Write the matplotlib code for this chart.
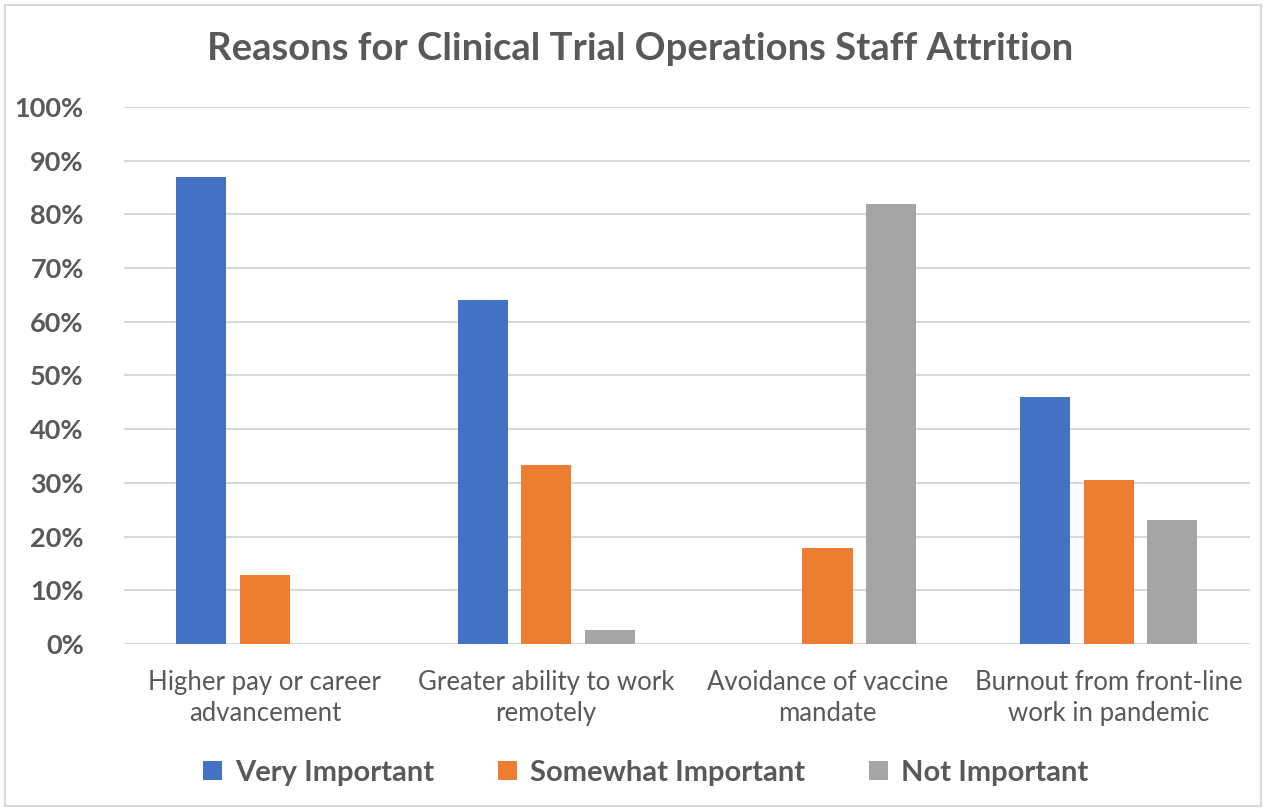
import numpy as np
import matplotlib.pyplot as plt
from matplotlib.patches import Rectangle
from matplotlib.ticker import PercentFormatter

# --- data ---
categories = ["Higher pay or career\nadvancement",
              "Greater ability to work\nremotely",
              "Avoidance of vaccine\nmandate",
              "Burnout from front-line\nwork in pandemic"]
very_important = [87, 64, 0, 46]
somewhat_important = [12.8, 33.3, 17.9, 30.5]
not_important = [0, 2.6, 81.9, 23.1]
series_names = ["Very Important", "Somewhat Important", "Not Important"]
colors = ["#4472C4", "#ED7D31", "#A5A5A5"]

plt.rcParams['font.family'] = ['Lato', 'DejaVu Sans']
text_color = "#595959"

fig = plt.figure(figsize=(12.66, 8.11), dpi=100)
ax = fig.add_axes([0.098, 0.206, 0.889, 0.662])

x = np.arange(len(categories))
width = 0.178
step = 0.2256
for i, (vals, name, c) in enumerate(zip([very_important, somewhat_important, not_important],
                                        series_names, colors)):
    ax.bar(x + (i - 1) * step, vals, width, color=c, label=name, zorder=3)

ax.set_xlim(-0.5, len(categories) - 0.5)
ax.set_ylim(0, 100)
ax.set_yticks(np.arange(0, 101, 10))
ax.yaxis.set_major_formatter(PercentFormatter(decimals=0))
ax.grid(axis='y', color="#D9D9D9", linewidth=1.5, zorder=0)
for s in ax.spines.values():
    s.set_visible(False)
ax.tick_params(axis='both', length=0)
ax.tick_params(axis='y', labelsize=19.5, labelcolor=text_color, pad=29)
for lbl in ax.get_yticklabels():
    lbl.set_fontweight('bold')
ax.set_xticks(x)
ax.set_xticklabels(categories, fontsize=18.5, color=text_color, linespacing=1.3)
ax.tick_params(axis='x', pad=19)

fig.text(0.506, 0.94, "Reasons for Clinical Trial Operations Staff Attrition",
         ha='center', va='center', fontsize=27.5, fontweight='bold', color=text_color)

leg = fig.legend(loc='center', bbox_to_anchor=(0.510, 0.047), ncol=3, frameon=False,
                 fontsize=21, handlelength=0.65, handleheight=0.65, columnspacing=2.2,
                 handletextpad=0.45)
for t in leg.get_texts():
    t.set_color(text_color)
    t.set_fontweight('bold')

# light chart border
fig.patches.append(Rectangle((0.004, 0.006), 0.992, 0.988, transform=fig.transFigure,
                             fill=False, edgecolor="#D9D9D9", linewidth=1.5))

fig.savefig("out.png", dpi=100)
